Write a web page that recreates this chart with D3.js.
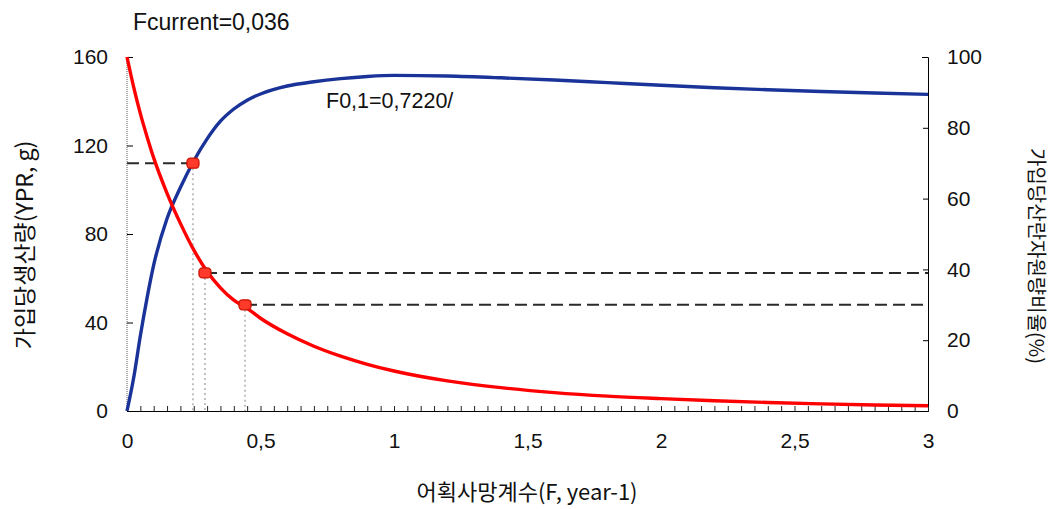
<!DOCTYPE html>
<html><head><meta charset="utf-8">
<script src="https://cdn.jsdelivr.net/npm/d3@7/dist/d3.min.js"></script>
<style>
html,body{margin:0;padding:0;background:#fff;}
text{font-family:"Liberation Sans",Arial,sans-serif;}
.kr{font-family:"Noto Sans CJK KR",sans-serif;}
</style></head><body>
<svg id="c" width="1053" height="509"></svg>
<script>
// Fishing mortality grid
const fValues = [0,0.025,0.05,0.075,0.1,0.15,0.2,0.25,0.3,0.35,0.4,0.45,0.5,0.6,0.7,0.8,0.9,1.0,1.2,1.4,1.6,1.8,2.0,2.2,2.4,2.6,2.8,3.0];
// Yield per recruit (g), left axis
const yprValues = [0,15,34,51,66,87,101,113,123,131,136.5,140.5,143.3,146.9,148.8,150.2,151.2,151.7,151.4,150.6,149.6,148.4,147.2,146.1,145.2,144.4,143.7,143.1];
// Spawning biomass per recruit ratio (%), right axis
const ssbValues = [100,91.5,84,77.5,71.5,61.5,53,45.5,39.4,34.8,31.3,29.0,26.2,21.8,18.3,15.5,13.2,11.3,8.5,6.6,5.2,4.2,3.5,2.9,2.4,2.0,1.7,1.5];
// reference points
const refYprF = [0.247];
const refYprVal = [112];
const refSsbF = [0.292, 0.442];
const refSsbVal = [39, 30];
const leftTicks = [0,40,80,120,160];
const rightTicks = [0,20,40,60,80,100];
const xMajorTicks = [0,0.5,1,1.5,2,2.5,3];
const xMinorTicks = d3.range(0, 61).map(i => i*0.05);
const labelTop = "Fcurrent=0,036";
const labelF01 = "F0,1=0,7220/";
const xTitle = "어획사망계수(F, year-1)";
const yLeftTitle = "가입당생산량(YPR, g)";
const yRightTitle = "가입당산란자원량비율(%)";

const svg = d3.select("#c");
const x = d3.scaleLinear().domain([0,3]).range([127,928]);
const yL = d3.scaleLinear().domain([0,160]).range([411,57]);
const yR = d3.scaleLinear().domain([0,100]).range([411,57]);
const fmt = v => String(v).replace('.', ',');

// left axis (dotted line)
svg.append("line").attr("x1",127).attr("x2",127).attr("y1",yL(160)).attr("y2",yL(0))
  .attr("stroke","#555").attr("stroke-width",1).attr("stroke-dasharray","1,1");
const gL = svg.append("g").attr("transform","translate(127,0)")
  .call(d3.axisLeft(yL).tickValues(leftTicks).tickSize(-6).tickPadding(19).tickFormat(d=>d));
gL.select(".domain").remove();
gL.selectAll("line").attr("stroke","#000");
gL.selectAll("text").attr("font-size",21).attr("fill","#111");

// right axis
const gR = svg.append("g").attr("transform","translate(928,0)")
  .call(d3.axisRight(yR).tickValues(rightTicks).tickSize(-5).tickSizeOuter(-6).tickPadding(19).tickFormat(d=>d));
gR.select(".domain").attr("stroke","#000");
gR.selectAll("text").attr("font-size",21).attr("fill","#111");

// bottom axis minor ticks
const gB = svg.append("g").attr("transform","translate(0,411)")
  .call(d3.axisBottom(x).tickValues(xMinorTicks).tickSize(-5).tickSizeOuter(0).tickFormat(""));
gB.select(".domain").attr("stroke","#000");
gB.selectAll("line").attr("stroke","#222");
const gB2 = svg.append("g").attr("transform","translate(0,411)")
  .call(d3.axisBottom(x).tickValues(xMajorTicks).tickSize(0).tickPadding(22).tickFormat(fmt));
gB2.select(".domain").remove();
gB2.selectAll("text").attr("font-size",21).attr("fill","#111");

// reference dashed lines
const dashes = svg.append("g");
refYprF.forEach((f,i)=>{
  dashes.append("line").attr("x1",x(0)).attr("x2",x(f)).attr("y1",yL(refYprVal[i])).attr("y2",yL(refYprVal[i]))
    .attr("stroke","#2a2a2a").attr("stroke-width",2).attr("stroke-dasharray","12,6");
  dashes.append("line").attr("x1",x(f)).attr("x2",x(f)).attr("y1",yL(refYprVal[i])).attr("y2",yL(0))
    .attr("stroke","#999").attr("stroke-width",1.2).attr("stroke-dasharray","2,3");
});
refSsbF.forEach((f,i)=>{
  dashes.append("line").attr("x1",x(f)).attr("x2",x(3)).attr("y1",yR(refSsbVal[i])).attr("y2",yR(refSsbVal[i]))
    .attr("stroke","#2a2a2a").attr("stroke-width",2).attr("stroke-dasharray","12,6");
  dashes.append("line").attr("x1",x(f)).attr("x2",x(f)).attr("y1",yR(refSsbVal[i])).attr("y2",yR(0))
    .attr("stroke","#999").attr("stroke-width",1.2).attr("stroke-dasharray","2,3");
});

// curves
const lineL = d3.line().x((d,i)=>x(fValues[i])).y(d=>yL(d)).curve(d3.curveMonotoneX);
const lineR = d3.line().x((d,i)=>x(fValues[i])).y(d=>yR(d)).curve(d3.curveMonotoneX);
svg.append("path").datum(yprValues).attr("d",lineL).attr("fill","none").attr("stroke","#1a3399").attr("stroke-width",3.4);
svg.append("path").datum(ssbValues).attr("d",lineR).attr("fill","none").attr("stroke","#ff0000").attr("stroke-width",3.4);

// markers
const mk = svg.append("g");
function marker(cx, cy){
  mk.append("rect").attr("x",cx-6).attr("y",cy-5).attr("width",12).attr("height",10).attr("rx",3.5)
    .attr("fill","#ff3a2a").attr("stroke","#cc1100").attr("stroke-width",1.3);
}
refYprF.forEach((f,i)=>marker(x(f), yL(refYprVal[i])));
refSsbF.forEach((f,i)=>marker(x(f), yR(refSsbVal[i])));

// texts
svg.append("text").attr("x",133).attr("y",30).attr("font-size",23).attr("fill","#111").text(labelTop);
svg.append("text").attr("x",326).attr("y",108).attr("font-size",21.5).attr("fill","#111").text(labelF01);
svg.append("text").attr("class","kr").attr("x",527).attr("y",500).attr("text-anchor","middle")
  .attr("font-size",22).attr("fill","#111").text(xTitle);
svg.append("text").attr("class","kr").attr("transform","translate(33,245) rotate(-90)").attr("text-anchor","middle")
  .attr("font-size",23).attr("fill","#111").text(yLeftTitle);
svg.append("text").attr("class","kr").attr("transform","translate(1029,256) rotate(90)").attr("text-anchor","middle")
  .attr("font-size",20).attr("fill","#111").text(yRightTitle);
</script>
</body></html>
